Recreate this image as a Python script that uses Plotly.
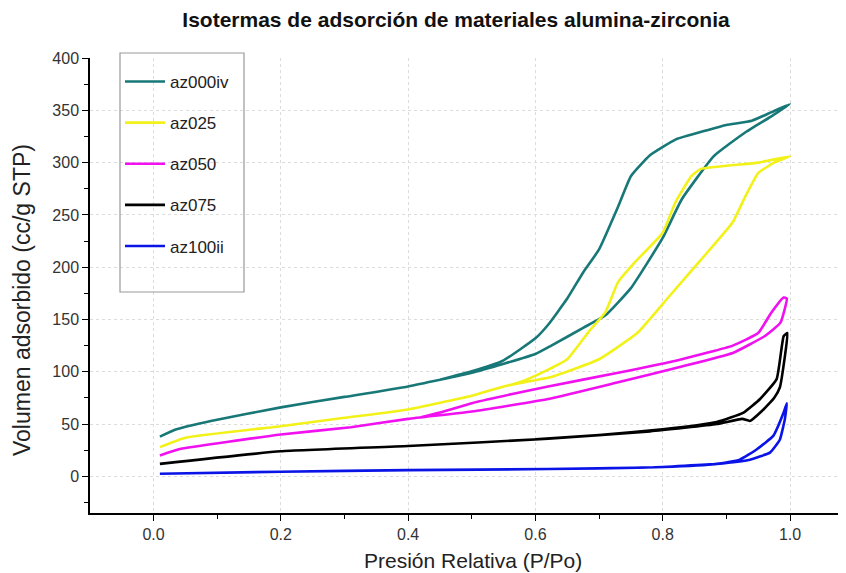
import plotly.graph_objects as go

# az000iv (adsorption then desorption)
az000iv_x = [0.01, 0.036, 0.09, 0.2, 0.3, 0.4, 0.5, 0.6, 0.625, 0.675, 0.71, 0.75, 0.8, 0.83, 0.88, 0.93, 0.97, 1.0,
             0.97, 0.94, 0.9, 0.87, 0.82, 0.78, 0.75, 0.73, 0.70, 0.675, 0.65, 0.62, 0.60, 0.55, 0.5, 0.45]
az000iv_y = [38, 45, 53, 66, 76, 86, 99, 117, 125, 142, 154, 180, 228, 265, 306, 329, 344, 356,
             348, 340, 336, 331, 322, 307, 287, 258, 217, 195, 170, 145, 132, 111, 100.5, 92.5]

az025_x = [0.01, 0.05, 0.2, 0.3, 0.4, 0.5, 0.55, 0.6, 0.625, 0.7, 0.76, 0.81, 0.86, 0.91, 0.93, 0.95, 0.975, 1.0,
           0.95, 0.86, 0.845, 0.82, 0.80, 0.755, 0.73, 0.71, 0.686, 0.65, 0.62, 0.58, 0.54]
az025_y = [28, 37, 48, 56, 64, 77, 86, 92, 95, 112, 137, 172, 207, 243, 268, 290, 300, 306,
           300, 294, 287, 262, 233, 204, 186, 157, 140, 112, 102, 91, 84]

az050_x = [0.01, 0.04, 0.2, 0.31, 0.4, 0.5, 0.62, 0.73, 0.83, 0.91, 0.96, 0.985, 0.995,
           0.99, 0.97, 0.95, 0.91, 0.83, 0.73, 0.62, 0.5, 0.45, 0.42]
az050_y = [20, 26, 40, 47, 55, 62, 74, 90, 105, 118, 134, 147, 170,
           171, 156, 137, 125, 112, 99, 86, 70, 61, 56.5]

az075_x = [0.01, 0.2, 0.4, 0.62, 0.78, 0.885, 0.925, 0.937, 0.955, 0.975, 0.984, 0.992, 0.996,
           0.99, 0.979, 0.953, 0.927, 0.885, 0.8, 0.7, 0.6]
az075_y = [12, 24, 29, 36, 43, 50, 55, 53, 62, 75, 85, 115, 137,
           134, 93, 74, 61, 52, 45, 39.5, 35.5]

az100ii_x = [0.01, 0.2, 0.4, 0.62, 0.78, 0.885, 0.937, 0.969, 0.984, 0.992, 0.995,
             0.99, 0.974, 0.948, 0.921, 0.885, 0.8, 0.7]
az100ii_y = [2.5, 4.5, 6, 7, 8.5, 12, 16, 23, 35, 55, 70,
             61, 39, 26, 16, 12, 9, 7.8]

series_names = ["az000iv", "az025", "az050", "az075", "az100ii"]
series_x = [az000iv_x, az025_x, az050_x, az075_x, az100ii_x]
series_y = [az000iv_y, az025_y, az050_y, az075_y, az100ii_y]
series_colors = ["#187878", "#f2f21a", "#f010f0", "#000000", "#0a14e6"]

x_tickvals = [0, 0.2, 0.4, 0.6, 0.8, 1.0]
x_ticktext = ["0.0", "0.2", "0.4", "0.6", "0.8", "1.0"]
y_tickvals = [0, 50, 100, 150, 200, 250, 300, 350, 400]

fig = go.Figure()
for name, xs, ys, c in zip(series_names, series_x, series_y, series_colors):
    fig.add_trace(go.Scatter(x=xs, y=ys, mode="lines", name=name, legendgroup=name,
                             line=dict(color=c, width=2.6, shape="spline", smoothing=0.4)))

font = "Liberation Sans, Arial, sans-serif"
OFF = 8  # page body offset
W, H = 846 - OFF, 573 - OFF
ml, mr, mt, mb = 90 - OFF, 4, 58 - OFF, 60
pw = W - ml - mr
ph = H - mt - mb

def sx(px):  # screen px -> paper x
    return (px - OFF - ml) / pw

def sy(py):  # screen px -> paper y
    return (H - mb - (py - OFF)) / ph

fig.update_layout(
    width=W, height=H,
    margin=dict(l=ml, r=mr, t=mt, b=mb, autoexpand=False),
    plot_bgcolor="white", paper_bgcolor="white",
    font=dict(family=font, size=16, color="#333"),
    title=dict(text="<b>Isotermas de adsorción de materiales alumina-zirconia</b>",
               x=(456 - OFF) / W, xanchor="center", xref="container", y=1 - (20 - OFF) / H, yanchor="middle",
               font=dict(size=21, color="#111")),
    showlegend=True,
    legend=dict(x=sx(120), y=sy(64), xanchor="left", yanchor="top",
                bgcolor="rgba(0,0,0,0)", borderwidth=0, tracegroupgap=16,
                font=dict(size=17, color="#222"), itemwidth=40),
    xaxis=dict(range=[-0.0998, 1.0817], tickvals=x_tickvals, ticktext=x_ticktext,
               showline=True, linecolor="black", linewidth=1.5,
               ticks="outside", ticklen=6, tickcolor="black", tickwidth=1.2,
               minor=dict(dtick=0.1, tick0=0, ticks="outside", ticklen=4, tickcolor="black", showgrid=False),
               showgrid=True, gridcolor="#dcdcdc", griddash="dot", gridwidth=1, zeroline=False,
               tickfont=dict(size=16), automargin=False),
    yaxis=dict(range=[-35, 400], tickvals=y_tickvals,
               showline=True, linecolor="black", linewidth=1.5,
               ticks="outside", ticklen=6, tickcolor="black", tickwidth=1.2,
               minor=dict(dtick=25, tick0=0, ticks="outside", ticklen=4, tickcolor="black", showgrid=False),
               showgrid=True, gridcolor="#dcdcdc", griddash="dot", gridwidth=1, zeroline=False,
               tickfont=dict(size=16), automargin=False),
    shapes=[dict(type="rect", xref="paper", yref="paper",
                 x0=sx(120), x1=sx(244), y0=sy(292), y1=sy(53),
                 line=dict(color="#999", width=1.2), fillcolor="rgba(0,0,0,0)")],
    annotations=[
        dict(text="Presión Relativa (P/Po)", xref="paper", yref="paper", x=sx(473), y=sy(560),
             xanchor="center", yanchor="middle", showarrow=False, font=dict(size=21, color="#222")),
        dict(text="Volumen adsorbido (cc/g STP)", xref="paper", yref="paper", x=sx(22), y=sy(300),
             xanchor="center", yanchor="middle", textangle=-90, showarrow=False,
             font=dict(size=23, color="#222")),
    ],
)

fig.write_html("out.html")
